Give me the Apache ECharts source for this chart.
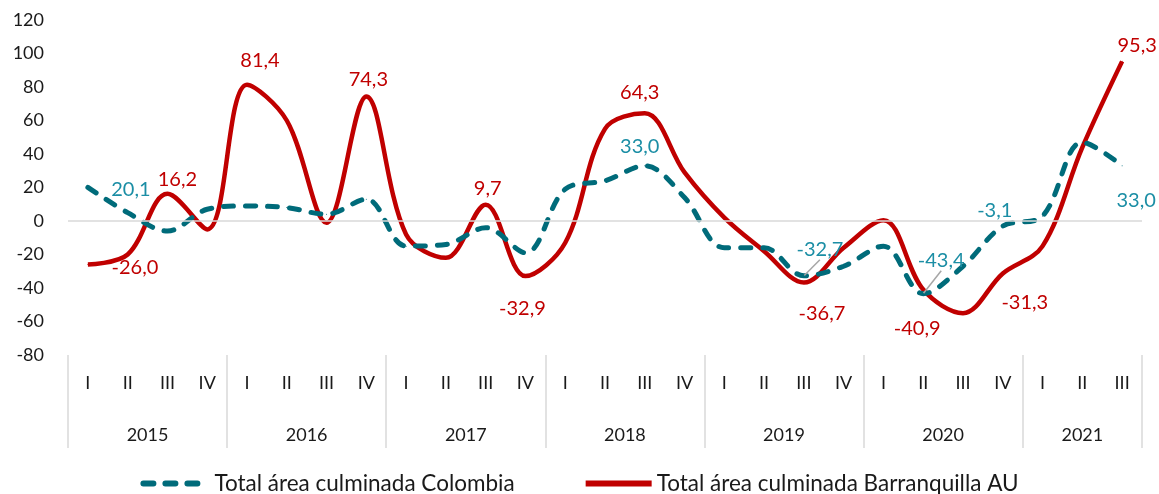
<!DOCTYPE html>
<html>
<head>
<meta charset="utf-8">
<script src="https://cdn.jsdelivr.net/npm/echarts@6/dist/echarts.min.js"></script>
<style>
    html, body { margin: 0; padding: 0; background: #fff; }
    #chart { width: 1159px; height: 494px; }
</style>
</head>
<body>
<div id="chart"></div>
<script>
// datos
var quarters = ['I', 'II', 'III', 'IV', 'I', 'II', 'III', 'IV', 'I', 'II', 'III', 'IV', 'I', 'II', 'III', 'IV',
    'I', 'II', 'III', 'IV', 'I', 'II', 'III', 'IV', 'I', 'II', 'III'];
var years = ['2015', '2016', '2017', '2018', '2019', '2020', '2021'];
var yearBounds = [0, 4, 8, 12, 16, 20, 24, 27];
var yTicks = [-80, 120, 20];

var colombia = [20.1, 5, -6, 7, 9, 8, 4, 13, -15, -14, -4, -19, 19, 24, 33.0, 14, -16, -16,
    -32.7, -27, -15, -43.4, -27, -3.1, 3, 47, 33.0];
var barranquilla = [-26.0, -20, 16.2, -5, 81.4, 60, -1, 74.3, -8, -22, 9.7, -32.9, -13, 55, 64.3,
    29, 2, -18, -36.7, -16, 0.5, -40.9, -55, -31.3, -15, 44, 95.3];

// which points carry a label, and where the label sits (px from the point)
var colombiaLabels = {0: [43, 2], 14: [-5, -19], 18: [16, -26], 21: [18, -33], 23: [-8, -16], 26: [14, 35]};
var barranquillaLabels = {0: [47, 3], 2: [10, -14], 4: [13, -24], 7: [2, -17], 10: [2, -16], 11: [-3, 32],
    14: [-5, -21], 18: [18, 31], 21: [-6, 39], 23: [22, 29], 26: [15, -16]};
var leaderLines = {18: true, 21: true};

var FONT = 'Lato';

function fmt(v) {
    return v.toFixed(1).replace('.', ',');
}

function buildData(values, labels, color, withLeader) {
    return values.map(function (v, i) {
        var item = {value: v};
        if (labels[i]) {
            item.label = {
                show: true,
                position: 'inside',
                offset: labels[i],
                color: color,
                fontSize: 20,
                fontFamily: FONT,
                formatter: function (p) { return fmt(p.value); }
            };
            if (withLeader && leaderLines[i]) {
                item.labelLine = {show: true, lineStyle: {color: '#a6a6a6', width: 1.5}};
            }
        }
        return item;
    });
}

var chart = echarts.init(document.getElementById('chart'));
var yearCenters = years.map(function (y, i) { return (yearBounds[i] + yearBounds[i + 1]) / 2; });

var option = {
    animation: false,
    grid: {left: 68, right: 17, top: 20, bottom: 139},
    legend: {
        top: 467,
        left: 'center',
        itemWidth: 66,
        itemHeight: 14,
        itemGap: 68,
        textStyle: {fontSize: 22.5, color: '#1a1a1a', fontFamily: FONT},
        data: [
            {name: 'Total área culminada Colombia', itemStyle: {opacity: 0}, lineStyle: {width: 6}},
            {name: 'Total área culminada Barranquilla AU', itemStyle: {opacity: 0}, lineStyle: {width: 6}}
        ]
    },
    xAxis: [
        {
            type: 'category',
            data: quarters,
            boundaryGap: true,
            axisLine: {show: false, onZero: false},
            axisTick: {show: false},
            axisLabel: {interval: 0, margin: 19, fontSize: 18, color: '#1a1a1a', fontFamily: FONT}
        },
        {
            type: 'value',
            position: 'bottom',
            offset: 0,
            min: 0,
            max: 27,
            splitLine: {show: false},
            axisLine: {show: false, onZero: false},
            axisTick: {
                show: true,
                customValues: yearBounds,
                length: 93,
                lineStyle: {color: '#d9d9d9', width: 1.5}
            },
            axisLabel: {
                customValues: yearCenters,
                margin: 71,
                fontSize: 18,
                color: '#1a1a1a',
                fontFamily: FONT,
                formatter: function (v) {
                    var i = yearCenters.indexOf(v);
                    return i >= 0 ? years[i] : '';
                }
            }
        }
    ],
    yAxis: {
        type: 'value',
        min: yTicks[0],
        max: yTicks[1],
        interval: yTicks[2],
        axisLine: {show: false},
        axisTick: {show: false},
        splitLine: {show: false},
        axisLabel: {margin: 24, fontSize: 18, color: '#1a1a1a', fontFamily: FONT}
    },
    series: [
        {
            name: 'Total área culminada Colombia',
            type: 'line',
            smooth: 0.35,
            symbol: 'circle',
            symbolSize: 1,
            itemStyle: {color: '#006b7a'},
            lineStyle: {color: '#006b7a', width: 5, type: [10, 12], cap: 'round'},
            emphasis: {disabled: true},
            z: 3,
            data: buildData(colombia, colombiaLabels, '#1b8ea5', true),
            markLine: {
                silent: true,
                symbol: 'none',
                label: {show: false},
                lineStyle: {color: '#d9d9d9', width: 1.5, type: 'solid'},
                data: [{yAxis: 0}]
            }
        },
        {
            name: 'Total área culminada Barranquilla AU',
            type: 'line',
            smooth: 0.35,
            symbol: 'circle',
            symbolSize: 1,
            itemStyle: {color: '#c00000'},
            lineStyle: {color: '#c00000', width: 4.5},
            emphasis: {disabled: true},
            z: 2,
            data: buildData(barranquilla, barranquillaLabels, '#c00000', false)
        }
    ]
};
chart.setOption(option);
</script>
</body>
</html>
